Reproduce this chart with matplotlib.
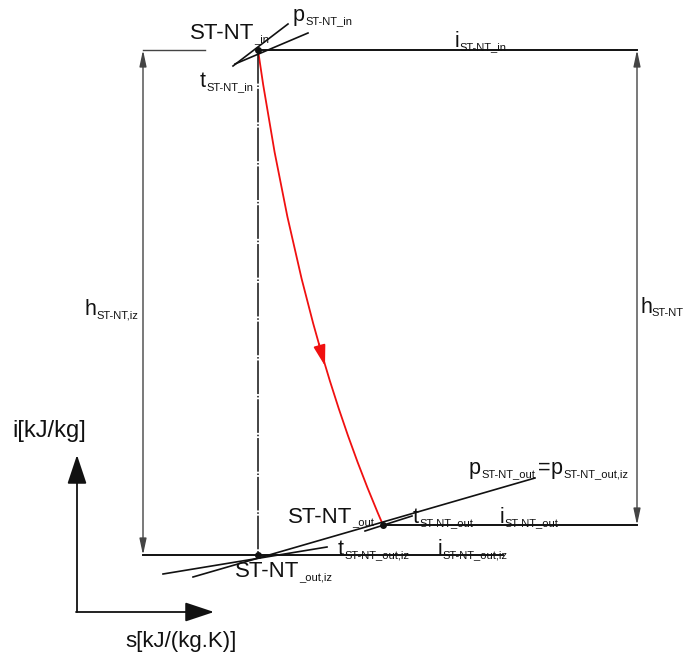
import numpy as np
import matplotlib.pyplot as plt
from matplotlib.path import Path
from matplotlib.patches import PathPatch

plt.rcParams['font.family'] = ['Liberation Sans', 'DejaVu Sans']

# schematic s-i diagram, drawn in page units (s to the right, i downward)
s_in, i_in = 258, 50          # ST-NT_in
s_out, i_out = 383, 525       # ST-NT_out
s_iz, i_iz = 258, 555         # ST-NT_out,iz
bend = (298, 330)             # control point of the real expansion line
arrow_at = (325, 366)         # tip of the direction arrow

# isobars / isotherms through the state points: (s0, i0, s1, i1)
p_in_line = (233, 66, 288, 24)
t_in_line = (235, 64, 308, 33)
p_out_line = (193, 577, 535, 478)
t_iz_line = (163, 574, 327, 547)
t_out_line = (365, 531, 412, 516)

# dimension lines
s_dim_left = 143
s_dim_right = 637
s_in_left_end = 205
s_iz_end = 503

# labels: main letter, subscript, s, i (baseline)
lab_main = ["ST-NT", "p", "t", "i", "h", "h", "ST-NT", "t", "i", "p", "=", "p", "t", "i", "ST-NT"]
lab_sub = ["_in", "ST-NT_in", "ST-NT_in", "ST-NT_in", "ST-NT,iz", "ST-NT", "_out", "ST-NT_out",
           "ST-NT_out", "ST-NT_out", "", "ST-NT_out,iz", "ST-NT_out,iz", "ST-NT_out,iz", "_out,iz"]
lab_s = [190, 293, 200, 455, 85, 640, 288, 413, 500, 469, 538, 551, 338, 438, 235]
lab_i = [39, 21, 87, 47, 315, 313, 523, 523, 523, 474, 474, 474, 555, 555, 577]

fig = plt.figure(figsize=(6.9, 6.57), dpi=100)
ax = fig.add_axes([0, 0, 1, 1])
ax.set_xlim(0, 690)
ax.set_ylim(657, 0)
ax.axis('off')

ink = '#111111'
dim = '#444444'
red = '#f01010'

# vertical isentrope (dash-dot)
ax.plot([s_in, s_iz], [i_in, i_iz], color=ink, lw=1.1, dashes=(22, 1.2, 1, 1.2))

# enthalpy levels
ax.plot([s_in, s_dim_right], [i_in, i_in], color=ink, lw=1.4)
ax.plot([s_dim_left, s_in_left_end], [i_in, i_in], color=dim, lw=1.0)
ax.plot([s_out, s_dim_right], [i_out, i_out], color=ink, lw=1.4)
ax.plot([s_dim_left, s_iz_end], [i_iz, i_iz], color=ink, lw=1.4)

# isobars and isotherms
for ln in [p_in_line, t_in_line, p_out_line, t_iz_line, t_out_line]:
    ax.plot([ln[0], ln[2]], [ln[1], ln[3]], color=ink, lw=1.2)

# dimension arrows h
dim_style = dict(arrowstyle='<|-|>,head_length=0.7,head_width=0.15', color=dim, lw=1.0,
                 mutation_scale=14, shrinkA=0, shrinkB=0)
ax.annotate('', xy=(s_dim_left, i_in), xytext=(s_dim_left, i_iz), arrowprops=dim_style)
ax.annotate('', xy=(s_dim_right, i_in), xytext=(s_dim_right, i_out), arrowprops=dim_style)

# real expansion line
path = Path([(s_in, i_in), bend, (s_out, i_out)], [Path.MOVETO, Path.CURVE3, Path.CURVE3])
ax.add_patch(PathPatch(path, facecolor='none', edgecolor=red, lw=1.3))
ax.annotate('', xy=arrow_at, xytext=(arrow_at[0] - 6, arrow_at[1] - 22),
            arrowprops=dict(arrowstyle='-|>,head_length=0.9,head_width=0.26', color=red,
                            lw=1.3, mutation_scale=14, shrinkA=0, shrinkB=0))

# state points
ax.plot([s_in, s_out, s_iz], [i_in, i_out, i_iz], 'o', color=ink, ms=4)

# axis arrows
axis_style = dict(arrowstyle='-|>,head_length=1.2,head_width=0.4', color=ink, lw=1.3,
                  mutation_scale=15, shrinkA=0, shrinkB=0)
ax.annotate('', xy=(77, 455), xytext=(77, 612), arrowprops=axis_style)
ax.annotate('', xy=(214, 612), xytext=(76, 612), arrowprops=axis_style)
ax.text(12, 437, 'i[kJ/kg]', fontsize=17, va='baseline', ha='left', color=ink)
ax.text(125, 647, 's[kJ/(kg.K)]', fontsize=16, va='baseline', ha='left', color=ink)

for main, sub, x, y in zip(lab_main, lab_sub, lab_s, lab_i):
    t = ax.text(x, y, main, fontsize=16 if main == "ST-NT" else 15.5, va='baseline', ha='left', color=ink)
    if sub:
        ax.annotate(sub, xy=(1, 0), xycoords=t, xytext=(0, 0), textcoords='offset points',
                    fontsize=8, va='bottom', ha='left', color=ink)

fig.savefig('out.png', dpi=100)
